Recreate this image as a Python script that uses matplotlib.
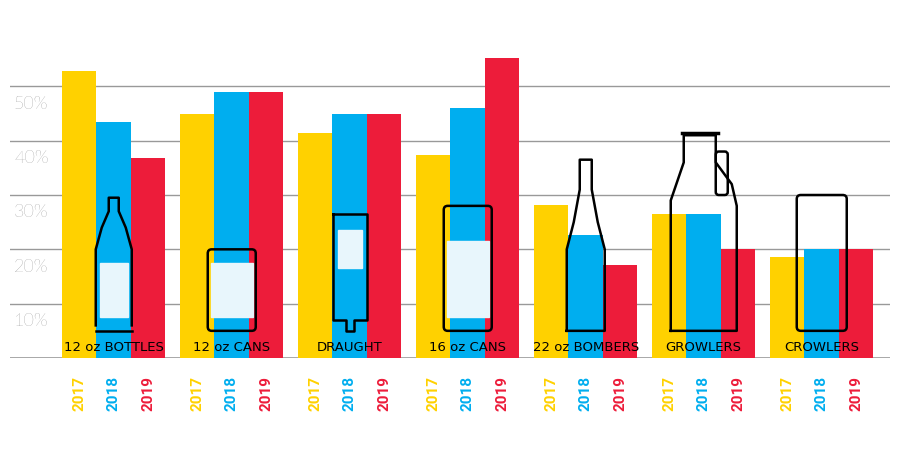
import matplotlib
matplotlib.use("Agg")
import matplotlib.pyplot as plt
from matplotlib.patches import FancyBboxPatch, Rectangle

categories = ["12 oz BOTTLES", "12 oz CANS", "DRAUGHT", "16 oz CANS", "22 oz BOMBERS", "GROWLERS", "CROWLERS"]
years = ["2017", "2018", "2019"]
v2017 = [52.8, 45.0, 41.4, 37.3, 28.1, 26.5, 18.6]
v2018 = [43.4, 48.9, 45.0, 46.1, 22.6, 26.5, 20.0]
v2019 = [36.8, 48.9, 45.0, 55.3, 17.1, 20.0, 20.0]
ticks = [10, 20, 30, 40, 50]
colors = ["#FFD100", "#00AEEF", "#ED1C3A"]

fig = plt.figure(figsize=(9, 4.69), dpi=100)
ax = fig.add_axes([10/900, 111/469, 880/900, 326/469])
ax.set_xlim(10, 890)
ax.set_ylim(0, 60)
for s in ax.spines.values():
    s.set_visible(False)
ax.set_xticks([]); ax.set_yticks([])
for t in ticks:
    ax.axhline(t, color="#999999", lw=1, zorder=0)
ax.axhline(0, color="#999999", lw=1.2, zorder=0)
for t in ticks:
    ax.text(14, t - 3.2, f"{t}%", color="#666666", fontsize=13, fontweight="light",
            va="center", ha="left", family="Lato")

bw = 34.5
gap = 118
series = [v2017, v2018, v2019]
for i, cat in enumerate(categories):
    x0 = 62 + i * gap
    for j, vals in enumerate(series):
        ax.bar(x0 + j * bw, vals[i], width=bw, align="edge", color=colors[j], zorder=1)
        ax.text(x0 + j * bw + bw / 2, -6.5, years[j], rotation=90, color=colors[j],
                fontsize=11, fontweight="bold", ha="center", va="center",
                family="Roboto", transform=ax.transData, clip_on=False)
    ax.text(x0 + 1.5 * bw, 2.0, cat, ha="center", va="center", fontsize=9.5,
            family="DejaVu Sans Condensed", color="black", zorder=4)

def outline(ax, x, y, w, h, pad):
    ax.add_patch(FancyBboxPatch((x, y), w, h, boxstyle=f"round,pad=0,rounding_size={pad}",
                                fill=False, ec="black", lw=1.8, zorder=3,
                                mutation_aspect=60/326*880/880))

lab = "#E8F6FC"
cx = [62 + i * gap + 1.5 * bw for i in range(7)]
# 12 oz bottle
ax.add_patch(Rectangle((cx[0]-16, 7.5), 32, 18, fill=False, ec="none"))
ax.plot([cx[0]-18, cx[0]-18, cx[0]-12, cx[0]-5, cx[0]-5, cx[0]+5, cx[0]+5, cx[0]+12, cx[0]+18, cx[0]+18],
        [6, 20, 24, 27, 29.5, 29.5, 27, 24, 20, 6], color="black", lw=1.8, zorder=3)
ax.plot([cx[0]-18, cx[0]+18], [5, 5], color="black", lw=1.8, zorder=3)
ax.add_patch(Rectangle((cx[0]-14, 7.5), 28, 10, color=lab, zorder=2))
# 12 oz cans
outline(ax, cx[1]-24, 5, 48, 15, 4)
ax.add_patch(Rectangle((cx[1]-21, 7.5), 42, 10, color=lab, zorder=2))
# draught
ax.plot([cx[2]-17, cx[2]-17, cx[2]-4, cx[2]-4, cx[2]+4, cx[2]+4, cx[2]+17, cx[2]+17, cx[2]-17],
        [26.5, 7, 7, 5, 5, 7, 7, 26.5, 26.5], color="black", lw=1.8, zorder=3)
ax.add_patch(Rectangle((cx[2]-12, 16.5), 24, 7, color=lab, zorder=2))
# 16 oz cans
outline(ax, cx[3]-24, 5, 48, 23, 4)
ax.add_patch(Rectangle((cx[3]-21, 7.5), 42, 14, color=lab, zorder=2))
# 22 oz bomber
ax.plot([cx[4]-19, cx[4]-19, cx[4]-12, cx[4]-6, cx[4]-6, cx[4]+6, cx[4]+6, cx[4]+12, cx[4]+19, cx[4]+19, cx[4]-19],
        [5, 20, 25, 31, 36.5, 36.5, 31, 25, 20, 5, 5], color="black", lw=1.8, zorder=3)
# growler
ax.plot([cx[5]-33, cx[5]-33, cx[5]-20, cx[5]-20, cx[5]+12, cx[5]+12, cx[5]+28, cx[5]+33, cx[5]+33, cx[5]-33],
        [5, 29, 36, 41, 41, 36, 32, 28, 5, 5], color="black", lw=1.8, zorder=3)
ax.plot([cx[5]-22, cx[5]+14], [41.5, 41.5], color="black", lw=2.5, zorder=3)
outline(ax, cx[5]+12, 30, 12, 8, 3)
# crowler
outline(ax, cx[6]-25, 5, 50, 25, 4)

fig.savefig("out.png", dpi=100)
